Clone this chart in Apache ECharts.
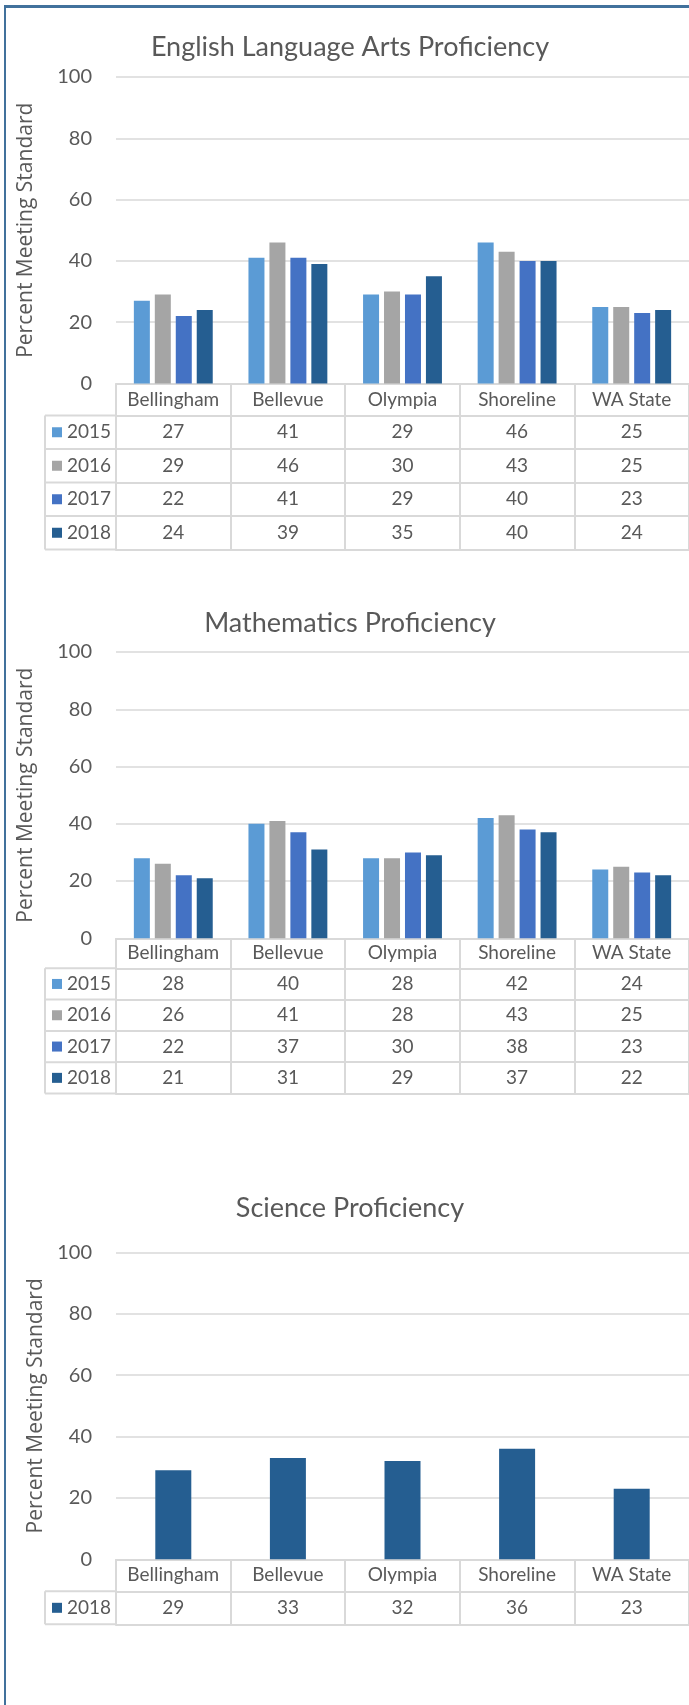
<!DOCTYPE html>
<html>
<head>
<meta charset="utf-8">
<script src="https://cdn.jsdelivr.net/npm/echarts@6/dist/echarts.min.js"></script>
<style>
  html, body { margin: 0; padding: 0; background: #fff; }
  .frame {
    position: absolute; left: 4px; top: 5px; width: 700px; height: 1720px;
    border-left: 2px solid #41719C; border-top: 3px solid #41719C;
  }
  #chart { position: absolute; left: 0; top: 0; width: 689px; height: 1705px; }
</style>
</head>
<body>
<div class="frame"></div>
<div id="chart"></div>
<script>
// data
var categories = ['Bellingham', 'Bellevue', 'Olympia', 'Shoreline', 'WA State'];
var years = ['2015', '2016', '2017', '2018'];
var elaValues = [
  [27, 41, 29, 46, 25],
  [29, 46, 30, 43, 25],
  [22, 41, 29, 40, 23],
  [24, 39, 35, 40, 24]
];
var mathValues = [
  [28, 40, 28, 42, 24],
  [26, 41, 28, 43, 25],
  [22, 37, 30, 38, 23],
  [21, 31, 29, 37, 22]
];
var sciYears = ['2018'];
var sciValues = [
  [29, 33, 32, 36, 23]
];
var yMin = 0, yMax = 100, yStep = 20;
var yName = 'Percent Meeting Standard';

var colors = { '2015': '#5B9BD5', '2016': '#A5A5A5', '2017': '#4472C4', '2018': '#255E91' };
var textColor = '#595959';
var lineColor = '#D9D9D9';
var font = 'Lato';

// one entry per chart on the page
var panels = [
  { title: 'English Language Arts Proficiency', years: years, values: elaValues,
    titleY: 47, top: 77, height: 306.5, headerH: 32, rowH: 33.5, nameGap: 79, barWidth: 16 },
  { title: 'Mathematics Proficiency', years: years, values: mathValues,
    titleY: 623, top: 652, height: 286.3, headerH: 30, rowH: 31.3, nameGap: 79, barWidth: 16 },
  { title: 'Science Proficiency', years: sciYears, values: sciValues,
    titleY: 1208, top: 1252.3, height: 307, headerH: 32, rowH: 33, nameGap: 67, barWidth: 36 }
];

var gridLeft = 116, tableLeft = 45;

var option = {
  animation: false,
  title: [], grid: [], xAxis: [], yAxis: [], legend: [], series: [], graphic: []
};

panels.forEach(function (p, k) {
  var base = p.top + p.height;
  var n = p.years.length;

  option.title.push({
    text: p.title, left: 350, top: p.titleY - 16, textAlign: 'center', padding: 0,
    textStyle: { fontFamily: font, fontSize: 27, fontWeight: 'normal', color: textColor, lineHeight: 32 }
  });

  option.grid.push({ left: gridLeft, right: -5, top: p.top, height: p.height });

  option.yAxis.push({
    type: 'value', gridIndex: k, min: yMin, max: yMax, interval: yStep,
    name: yName, nameLocation: 'middle', nameRotate: 90, nameGap: p.nameGap,
    nameTextStyle: { fontFamily: 'Open Sans', fontSize: 21, color: textColor },
    axisLine: { show: false }, axisTick: { show: false },
    axisLabel: { fontFamily: font, fontSize: 20, color: textColor, margin: 24 },
    splitLine: { lineStyle: { color: lineColor, width: 1.5 } }
  });

  // header row of the data table: category names
  var headerIndex = option.xAxis.length;
  option.xAxis.push({
    type: 'category', gridIndex: k, data: categories, position: 'bottom',
    axisLine: { lineStyle: { color: lineColor, width: 2 } },
    axisTick: { show: true, interval: 0, length: p.headerH, lineStyle: { color: lineColor, width: 2 } },
    axisLabel: { interval: 0, margin: 0, lineHeight: p.headerH, fontFamily: font, fontSize: 19, color: textColor }
  });

  // one axis per table row, labels are the values
  p.values.forEach(function (row, i) {
    option.xAxis.push({
      type: 'category', gridIndex: k, data: categories, position: 'bottom',
      offset: p.headerH + i * p.rowH,
      axisLine: { lineStyle: { color: lineColor, width: 2 } },
      axisTick: { show: true, interval: 0, length: p.rowH, lineStyle: { color: lineColor, width: 2 } },
      axisLabel: {
        interval: 0, margin: 0, lineHeight: p.rowH, fontFamily: font, fontSize: 19, color: textColor,
        formatter: function (v, idx) { return String(row[idx]); }
      }
    });
  });
  // closing line under the table
  option.xAxis.push({
    type: 'category', gridIndex: k, data: categories, position: 'bottom',
    offset: p.headerH + n * p.rowH,
    axisLine: { lineStyle: { color: lineColor, width: 2 } },
    axisTick: { show: false }, axisLabel: { show: false }
  });

  option.legend.push({
    left: 52, top: base + p.headerH, orient: 'vertical', padding: 0,
    itemWidth: 10, itemHeight: 10, itemGap: 0, icon: 'rect', selectedMode: false,
    data: p.years,
    textStyle: { fontFamily: font, fontSize: 19, color: textColor, lineHeight: p.rowH }
  });

  p.years.forEach(function (y, i) {
    option.series.push({
      name: y, type: 'bar', xAxisIndex: headerIndex, yAxisIndex: k,
      data: p.values[i], barWidth: p.barWidth, barGap: '31%',
      itemStyle: { color: colors[y] }, silent: true
    });
  });

  // left column of the table (legend cells)
  var tTop = base + p.headerH, tBottom = base + p.headerH + n * p.rowH;
  option.graphic.push({
    type: 'line', shape: { x1: tableLeft, y1: tTop, x2: tableLeft, y2: tBottom },
    style: { stroke: lineColor, lineWidth: 2 }
  });
  for (var i = 0; i <= n; i++) {
    var yy = tTop + i * p.rowH;
    option.graphic.push({
      type: 'line', shape: { x1: tableLeft, y1: yy, x2: gridLeft, y2: yy },
      style: { stroke: lineColor, lineWidth: 2 }
    });
  }
});

var chart = echarts.init(document.getElementById('chart'));
chart.setOption(option);
</script>
</body>
</html>
